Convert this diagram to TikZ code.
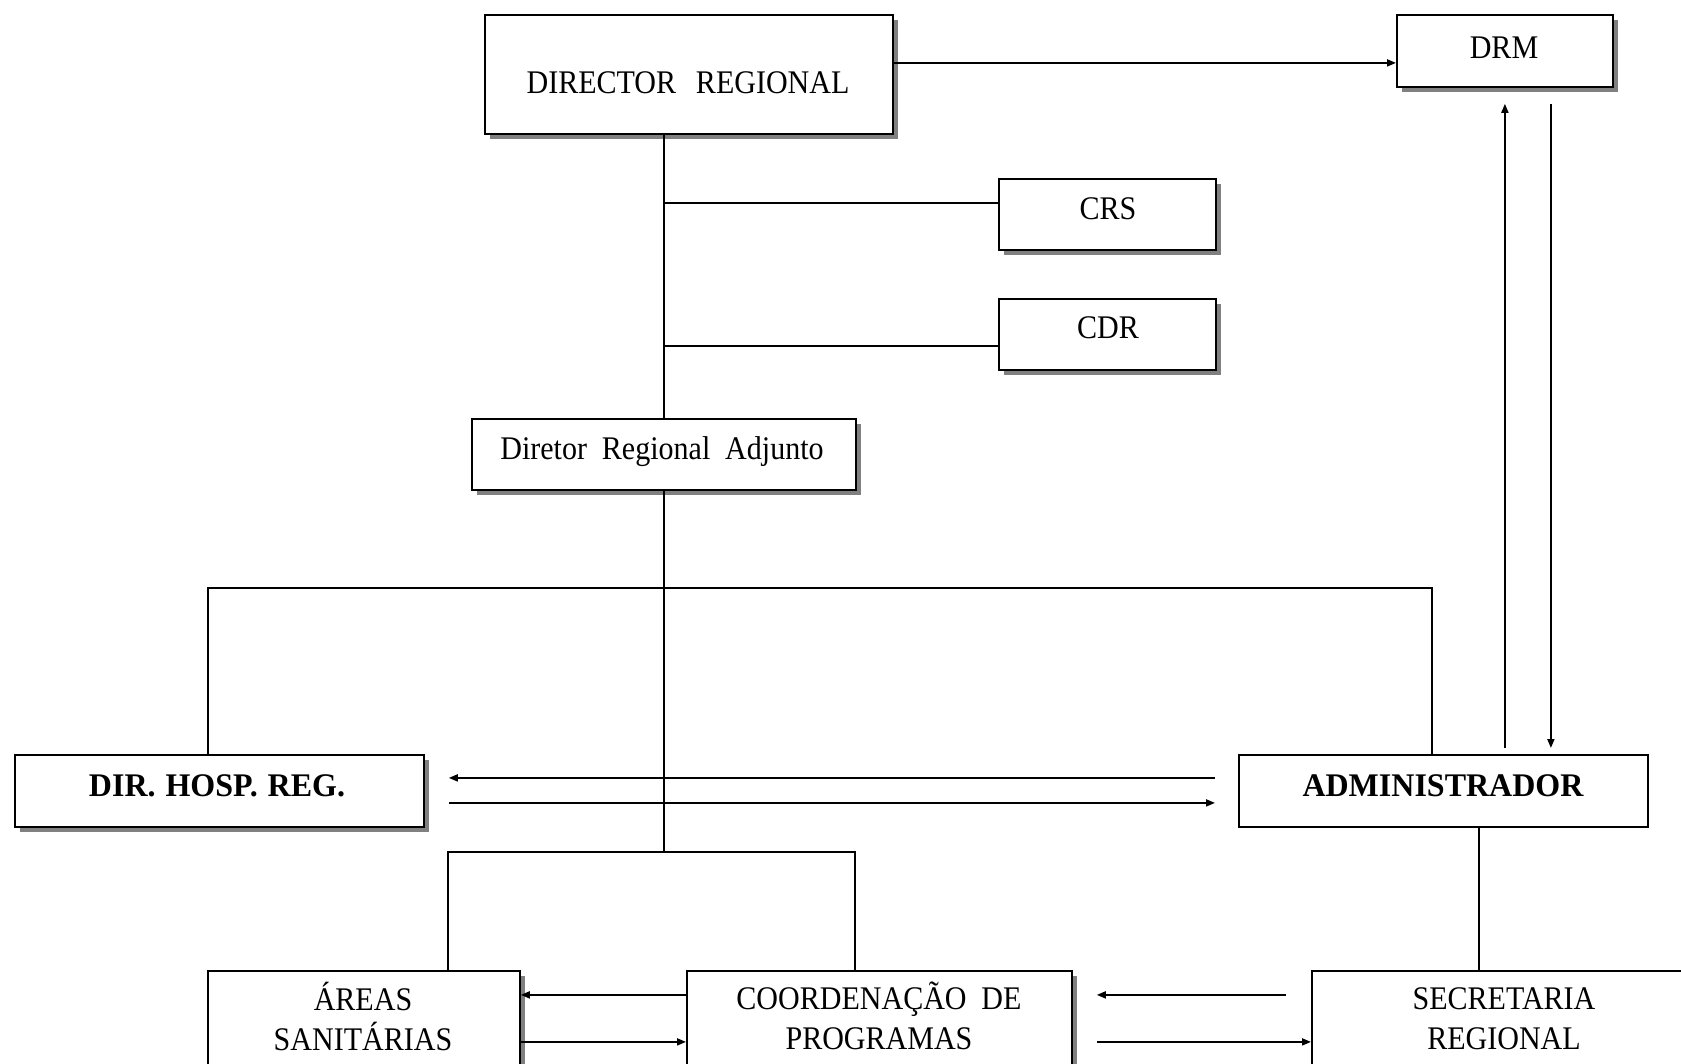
\documentclass[tikz,border=0pt]{standalone}
\usepackage{fontspec}
\setmainfont{Liberation Serif}[FakeStretch=0.91]
\newfontfamily\boldlblfont{Liberation Serif}[FakeStretch=0.97]
\usetikzlibrary{arrows.meta,shadows}
\newcommand\myws{\spaceskip 0.45em\relax}
\newcommand\mywsb{\spaceskip 0.3em\relax}
\begin{document}
\begin{tikzpicture}[x=1pt,y=-1pt,
  box/.style={draw, line width=1.8pt, fill=white, inner sep=0pt, anchor=north west},
  shbox/.style={box, drop shadow={shadow xshift=5pt, shadow yshift=-5pt, fill=black!50, opacity=1}},
  lbl/.style={inner sep=0pt, font={\fontsize{33}{40}\selectfont\myws}, text height=21.8pt, text depth=0pt},
  lblb/.style={lbl, font={\fontsize{33}{40}\boldlblfont\bfseries\mywsb}},
  lbltwo/.style={inner sep=0pt, font={\fontsize{33}{40}\selectfont\myws}, align=center},
  con/.style={line width=1.8pt},
  arr/.style={con, -{Triangle[length=9pt,width=7pt]}}
]
\useasboundingbox (0,0) rectangle (1681,1063);
\clip (0,0) rectangle (1681,1063);
\fill[white] (0,0) rectangle (1681,1063);

% boxes
\node[shbox, minimum width=408pt, minimum height=119pt] (dr) at (484,14) {};
\node[shbox, minimum width=216pt, minimum height=72pt] (drm) at (1396,14) {};
\node[shbox, minimum width=217pt, minimum height=71pt] (crs) at (998,178) {};
\node[shbox, minimum width=217pt, minimum height=71pt] (cdr) at (998,298) {};
\node[shbox, minimum width=384pt, minimum height=71pt] (adj) at (471,418) {};
\node[shbox, minimum width=409pt, minimum height=72pt] (hosp) at (14,754) {};
\node[box, minimum width=409pt, minimum height=72pt] (admin) at (1238,754) {};
\node[shbox, minimum width=312pt, minimum height=100pt] (areas) at (207,970) {};
\node[shbox, minimum width=385pt, minimum height=100pt] (coord) at (686,970) {};
\node[box, minimum width=389pt, minimum height=100pt] (secr) at (1311,970) {};

% labels
\node[lbl] (tdr) at (688,83) {DIRECTOR\hspace{0.6em}REGIONAL};
\node[lbl] (tdrm) at (1504,48) {DRM};
\node[lbl] (tcrs) at (1108,209) {CRS};
\node[lbl] (tcdr) at (1108,328) {CDR};
\node[lbl] (tadj) at (662,449) {Diretor Regional Adjunto};
\node[lblb] (thosp) at (217,786) {DIR. HOSP. REG.};
\node[lblb] (tadm) at (1443,786) {ADMINISTRADOR};
\node[lbltwo] (tar) at (363,1016) {ÁREAS\\SANITÁRIAS};
\node[lbltwo] (tco) at (879,1016) {COORDENAÇÃO DE\\PROGRAMAS};
\node[lbltwo] (tse) at (1504,1019) {SECRETARIA\\REGIONAL};

% connectors
\coordinate (p1) at ([yshift=-12pt]drm.west);
\draw[arr] (dr.east |- p1) -- (p1);
\draw[con] (dr.south -| adj.north) -- (adj.north);
\coordinate (pc) at ([yshift=11.5pt]crs.west);
\draw[con] (pc -| adj.north) -- (pc);
\coordinate (pd) at ([yshift=-11.5pt]cdr.west);
\draw[con] (pd -| adj.north) -- (pd);

\coordinate (hb) at ([xshift=-11.5pt]hosp.north);
\coordinate (ab) at ([xshift=-11.5pt]admin.north);
\coordinate (bus1) at ([yshift=-97pt]adj.south);
\draw[con] (hb) -- (hb |- bus1) -- (ab |- bus1) -- (ab);
\coordinate (bus2) at ([yshift=-361pt]adj.south);
\draw[con] (adj.south) -- (bus2);
\coordinate (ad1) at ([xshift=84pt]areas.north);
\coordinate (cd1) at ([xshift=-24.5pt]coord.north);
\draw[con] (ad1) -- (ad1 |- bus2) -- (cd1 |- bus2) -- (cd1);
\coordinate (sd) at ([xshift=35.5pt]admin.south);
\draw[con] (sd) -- (sd |- secr.north);

% DRM <-> ADMINISTRADOR
\coordinate (u1) at ([yshift=-16pt]drm.south);
\coordinate (u2) at ([yshift=6pt]admin.north);
\draw[arr] (u1 |- u2) -- (u1);
\coordinate (d1) at ([xshift=46pt]u1);
\draw[arr] (d1) -- (d1 |- u2);

% DIR HOSP <-> ADMINISTRADOR
\coordinate (l1) at ([xshift=24pt,yshift=13pt]hosp.east);
\coordinate (r1) at ([xshift=-23pt,yshift=13pt]admin.west);
\draw[arr] (r1) -- (l1);
\coordinate (l2) at ([xshift=24pt,yshift=-12pt]hosp.east);
\coordinate (r2) at ([xshift=-23pt,yshift=-12pt]admin.west);
\draw[arr] (l2) -- (r2);

% bottom row
\coordinate (c1) at ([yshift=26pt]coord.west);
\draw[arr] (c1) -- (c1 -| areas.east);
\coordinate (c2) at ([yshift=-21pt]areas.east);
\draw[arr] (c2) -- (c2 -| coord.west);
\coordinate (ce) at ([xshift=24pt]coord.east);
\coordinate (s1) at ([xshift=-25pt,yshift=26pt]secr.west);
\draw[arr] (s1) -- (s1 -| ce);
\draw[arr] (c2 -| ce) -- (c2 -| secr.west);
\end{tikzpicture}
\end{document}
